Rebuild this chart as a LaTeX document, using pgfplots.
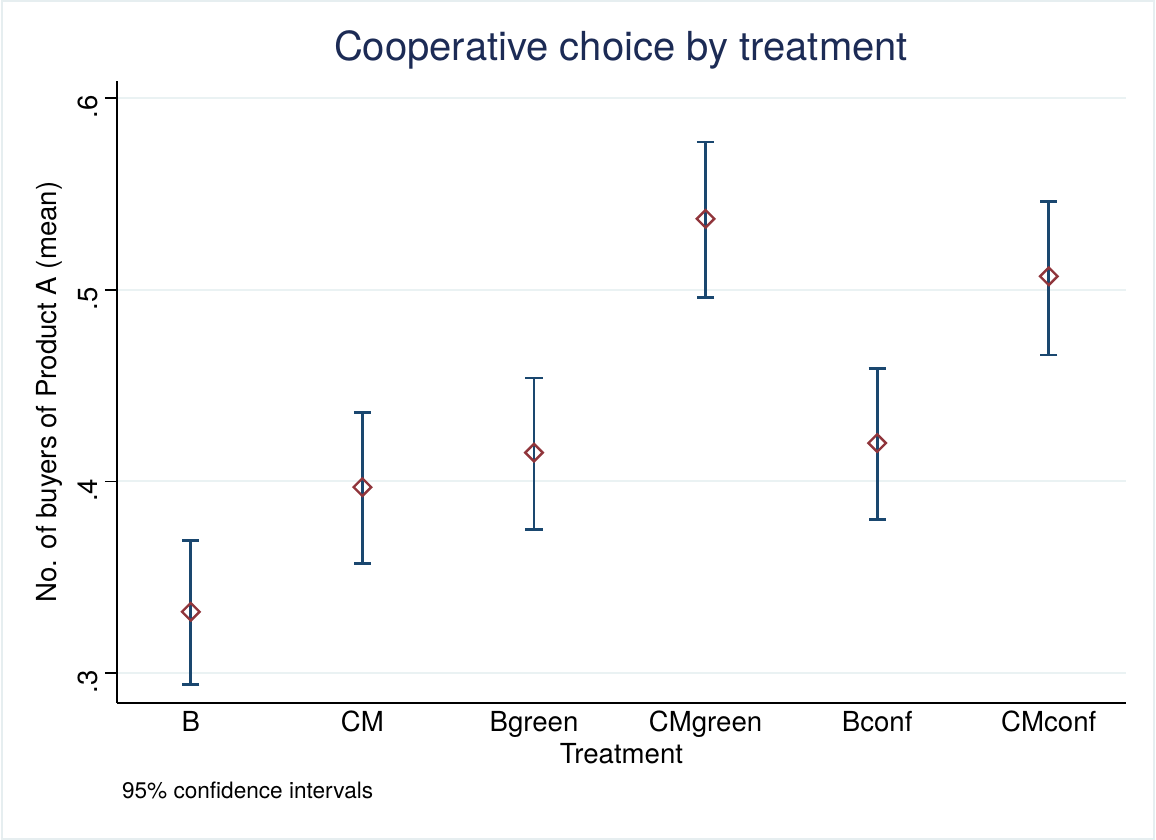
\documentclass[border=0pt]{standalone}
\usepackage{pgfplots}
\pgfplotsset{compat=1.18}
\usepackage{pgfplotstable}
\usepackage{fontspec}
\setmainfont{TeX Gyre Heros}
\definecolor{stnavy}{RGB}{26,71,111}
\definecolor{stmaroon}{RGB}{144,53,59}
\definecolor{stgrid}{RGB}{234,242,243}
\definecolor{sttitle}{RGB}{28,43,85}
\definecolor{stframe}{RGB}{230,238,240}

\pgfplotstableread{
x   y      ep     em
1   0.332  0.037  0.038
2   0.397  0.039  0.040
3   0.415  0.039  0.040
4   0.537  0.040  0.041
5   0.420  0.039  0.040
6   0.507  0.039  0.041
}\means

\begin{document}
\begin{tikzpicture}
\path[use as bounding box] (0,0) rectangle (578pt,420pt);
\draw[stframe, line width=1pt] (1.2pt,0.7pt) rectangle (577pt,419.5pt);
\begin{axis}[
  at={(58.5pt,68.5pt)}, anchor=south west,
  scale only axis, width=504.5pt, height=311pt,
  xmin=0.57, xmax=6.45, ymin=0.2844, ymax=0.6089,
  axis x line*=bottom, axis y line*=left,
  axis line style={-, line width=0.9pt, black},
  xtick={1,2,3,4,5,6},
  xticklabels={B,CM,Bgreen,CMgreen,Bconf,CMconf},
  ytick={0.3,0.4,0.5,0.6},
  yticklabels={.3,.4,.5,.6},
  tick align=outside,
  x tick style={draw=none},
  y tick style={line width=0.9pt, black},
  major tick length=6pt,
  ymajorgrids,
  major grid style={stgrid, line width=1pt},
  tick label style={font=\fontsize{13.8}{16}\selectfont},
  yticklabel style={rotate=90, anchor=south, xshift=-4.5pt},
  xticklabel style={yshift=5.5pt},
  xlabel={Treatment},
  ylabel={No. of buyers of Product A (mean)},
  label style={font=\fontsize{13.8}{16}\selectfont},
  xlabel style={yshift=4pt},
  ylabel style={yshift=1pt},
  clip=false,
]
\addplot[draw=none, mark=none,
  error bars/.cd, y dir=both, y explicit,
  error bar style={stnavy, line width=1.35pt},
  error mark options={stnavy, line width=1.35pt, mark size=4.3pt, rotate=90}]
  table[x=x, y=y, y error plus=ep, y error minus=em] {\means};
\addplot[only marks, mark=square, mark size=3.1pt,
  mark options={stmaroon, rotate=45, line width=1.2pt}]
  table[x=x, y=y] {\means};
\end{axis}
\node[sttitle, font=\fontsize{20}{24}\selectfont] at (310.5pt,395pt) {Cooperative choice by treatment};
\node[anchor=base west, font=\fontsize{11.3}{13}\selectfont, inner sep=0pt] at (60.8pt,20.5pt) {95\% confidence intervals};
\end{tikzpicture}
\end{document}
